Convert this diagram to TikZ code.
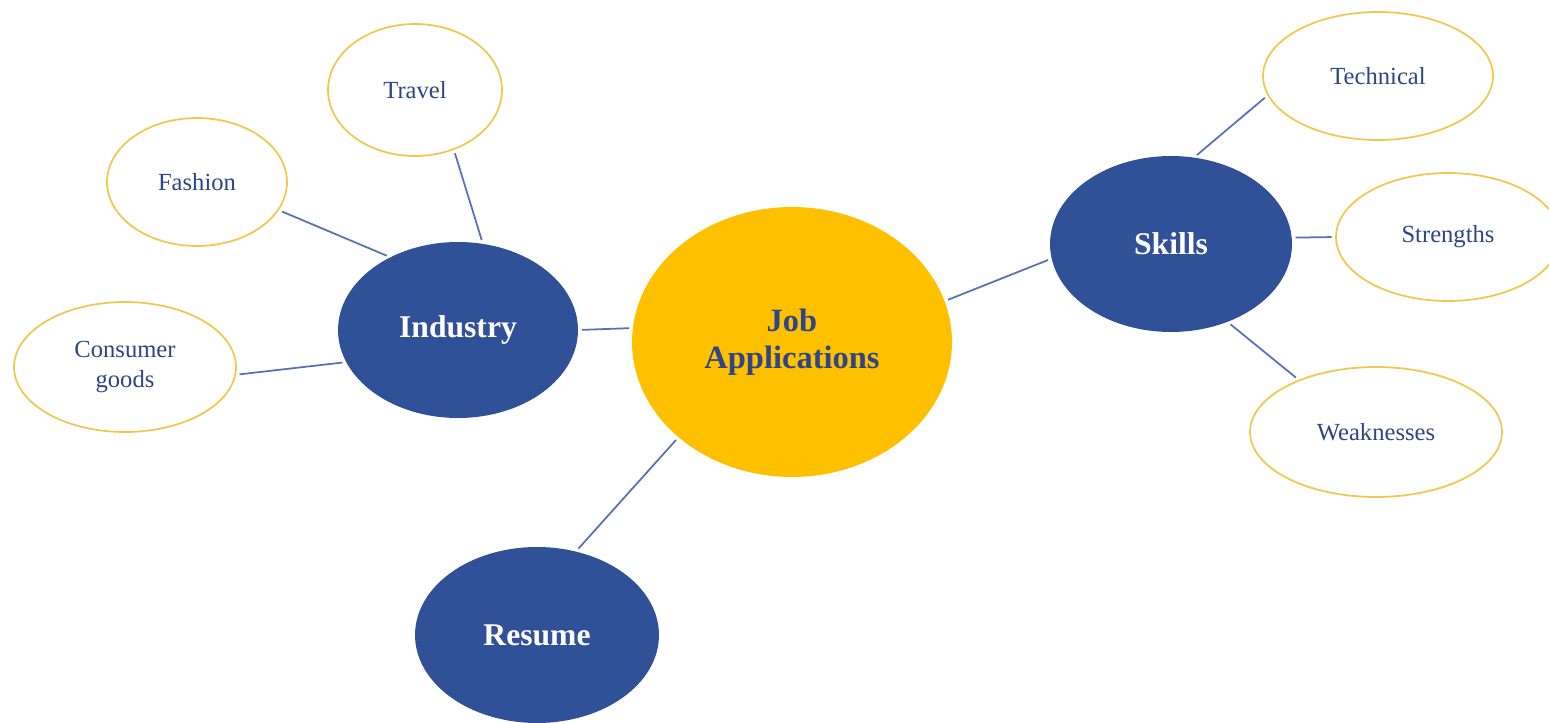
\documentclass[tikz,border=0pt]{standalone}
\usepackage{fontspec}
\setmainfont{Liberation Serif}
\usepackage{tikz}
\usetikzlibrary{shapes.geometric}
\usepackage{xcolor}

\definecolor{hubblue}{RGB}{48,80,152}
\definecolor{gold}{RGB}{255,192,0}
\definecolor{rimgold}{RGB}{240,200,80}
\definecolor{inkblue}{RGB}{46,70,136}
\definecolor{linkblue}{RGB}{84,114,180}

\tikzset{
  core/.style={ellipse, fill=gold, text=inkblue, align=center, inner sep=0pt,
    font=\fontsize{18.5}{21}\selectfont\bfseries},
  hub/.style={ellipse, fill=hubblue, text=white, inner sep=0pt,
    font=\fontsize{18}{21}\selectfont\bfseries},
  leaf/.style={ellipse, draw=rimgold, line width=1pt, fill=white, text=inkblue,
    align=center, inner sep=0pt, font=\fontsize{14}{17}\selectfont},
  link/.style={draw=linkblue, line width=1pt, shorten <=2pt, shorten >=2pt}
}

\begin{document}
\begin{tikzpicture}[x=0.02cm,y=-0.02cm]
\clip (0,0) rectangle (1549,723);

\node[core, minimum width=6.4cm, minimum height=5.4cm] (job) at (792,342) {Job\\Applications};
\node[hub, minimum width=4.8cm, minimum height=3.52cm] (ind) at (458,330) {Industry};
\node[hub, minimum width=4.84cm, minimum height=3.52cm] (skl) at (1171,244) {Skills};
\node[hub, minimum width=4.88cm, minimum height=3.52cm] (res) at (537,635) {Resume};

\node[leaf, minimum width=3.48cm, minimum height=2.64cm] (trv) at (415,90) {Travel};
\node[leaf, minimum width=3.6cm, minimum height=2.56cm] (fsh) at (197,182) {Fashion};
\node[leaf, minimum width=4.44cm, minimum height=2.6cm] (cns) at (125,367) {Consumer\\goods};
\node[leaf, minimum width=4.6cm, minimum height=2.56cm] (tec) at (1378,76) {Technical};
\node[leaf, minimum width=4.48cm, minimum height=2.56cm] (str) at (1448,237) {Strengths};
\node[leaf, minimum width=5.04cm, minimum height=2.6cm] (wkn) at (1376,432) {Weaknesses};

\draw[link] (ind.0) -- (job.175);
\draw[link] (ind.74) -- (trv.303);
\draw[link] (ind.133) -- (fsh.341);
\draw[link] (ind.196) -- (cns.356);
\draw[link] (job.15) -- (skl.187);
\draw[link] (job.220) -- (res.65);
\draw[link] (skl.75) -- (tec.190);
\draw[link] (skl.3) -- (str.west);
\draw[link] (skl.306) -- (wkn.146);
\end{tikzpicture}
\end{document}
